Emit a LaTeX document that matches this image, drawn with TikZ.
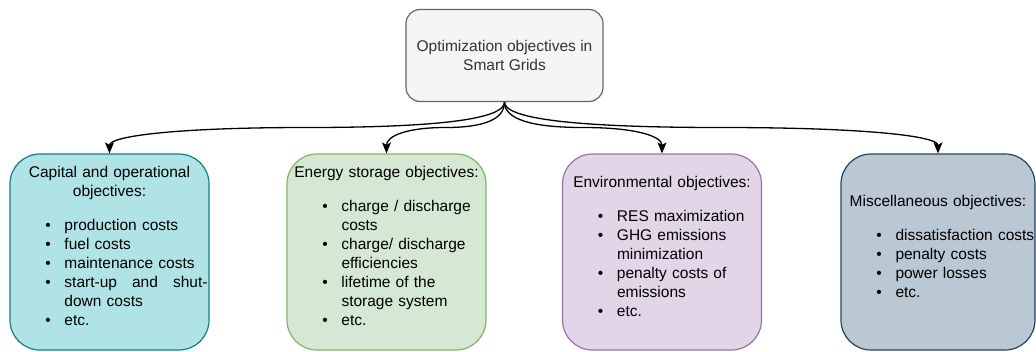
\documentclass[tikz,border=0pt]{standalone}
\usepackage{fontspec}
\setmainfont{Liberation Sans}
\usetikzlibrary{arrows.meta,calc}

\definecolor{rootfill}{HTML}{F5F5F5}
\definecolor{rootline}{HTML}{666666}
\definecolor{roottext}{HTML}{333333}
\definecolor{capfill}{HTML}{B0E3E6}
\definecolor{capline}{HTML}{0E8088}
\definecolor{stofill}{HTML}{D5E8D4}
\definecolor{stoline}{HTML}{82B366}
\definecolor{envfill}{HTML}{E1D5E7}
\definecolor{envline}{HTML}{9673A6}
\definecolor{miscfill}{HTML}{BAC8D3}
\definecolor{miscline}{HTML}{23445D}

\newcommand{\itm}{\makebox[6pt]{\textbullet}}

\tikzset{
  txt/.style={font=\fontsize{15.5}{19}\selectfont},
  rootbox/.style={txt, draw=rootline, fill=rootfill, text=roottext, line width=1.2pt,
    rounded corners=14pt, minimum width=197pt, minimum height=92pt, align=center},
  objbox/.style={txt, line width=1.2pt, rounded corners=30pt, minimum height=196pt,
    text width=199pt, inner xsep=0pt, inner ysep=0pt},
  link/.style={line width=1.3pt, -{Stealth[length=11pt,width=9pt,inset=2.5pt]}}
}

\begin{document}
\begin{tikzpicture}[x=1pt,y=-1pt]
    \useasboundingbox (0,0) rectangle (1036,351);
    % la racine
    \node[rootbox] (top) at (504.5,55.5) {Optimization objectives in\\Smart Grids};
    % les objectifs
    \node[objbox, fill=capfill, draw=capline] (cap) at (109.5,252) {%
      {\centering Capital and operational\\objectives:\par}\vspace{15pt}
      \hspace*{35pt}\begin{tabular}[t]{@{}l@{\hspace{13.5pt}}l@{}}
        \itm & production costs\\
        \itm & fuel costs\\
        \itm & maintenance costs\\
        \itm & \makebox[143pt][l]{start-up\hfill and\hfill shut-}\\
             & down costs\\
        \itm & etc.
      \end{tabular}\vspace{6pt}};
    \node[objbox, fill=stofill, draw=stoline] (sto) at (386.5,252) {%
      {\centering Energy storage objectives:\par}\vspace{15pt}
      \hspace*{35pt}\begin{tabular}[t]{@{}l@{\hspace{13.5pt}}l@{}}
        \itm & charge / discharge\\
             & costs\\
        \itm & charge/ discharge\\
             & efficiencies\\
        \itm & lifetime of the\\
             & storage system\\
        \itm & etc.
      \end{tabular}\vspace{6pt}};
    \node[objbox, fill=envfill, draw=envline] (env) at (662,252) {%
      {\centering Environmental objectives:\par}\vspace{15pt}
      \hspace*{35pt}\begin{tabular}[t]{@{}l@{\hspace{13.5pt}}l@{}}
        \itm & RES maximization\\
        \itm & GHG emissions\\
             & minimization\\
        \itm & penalty costs of\\
             & emissions\\
        \itm & etc.
      \end{tabular}\vspace{6pt}};
    \node[objbox, fill=miscfill, draw=miscline, text width=194pt] (misc) at (938,252) {%
      {\centering Miscellaneous objectives:\par}\vspace{15pt}
      \hspace*{35pt}\begin{tabular}[t]{@{}l@{\hspace{13.5pt}}l@{}}
        \itm & dissatisfaction costs\\
        \itm & penalty costs\\
        \itm & power losses\\
        \itm & etc.
      \end{tabular}\vspace{6pt}};
    % les liaisons
    \coordinate (hub) at (504.5,127.5);
    \foreach \b in {cap,sto,env,misc}{
      \coordinate (m) at ($(top.south |- hub)!.5!(\b.north |- hub)$);
      \draw[link] (top.south)
        .. controls ($(top.south)!2/3!(top.south |- hub)$) and ($(m)!2/3!(top.south |- hub)$) .. (m)
        .. controls ($(m)!2/3!(\b.north |- hub)$) and ($(\b.north)!2/3!(\b.north |- hub)$) .. (\b.north);
    }
\end{tikzpicture}
\end{document}
